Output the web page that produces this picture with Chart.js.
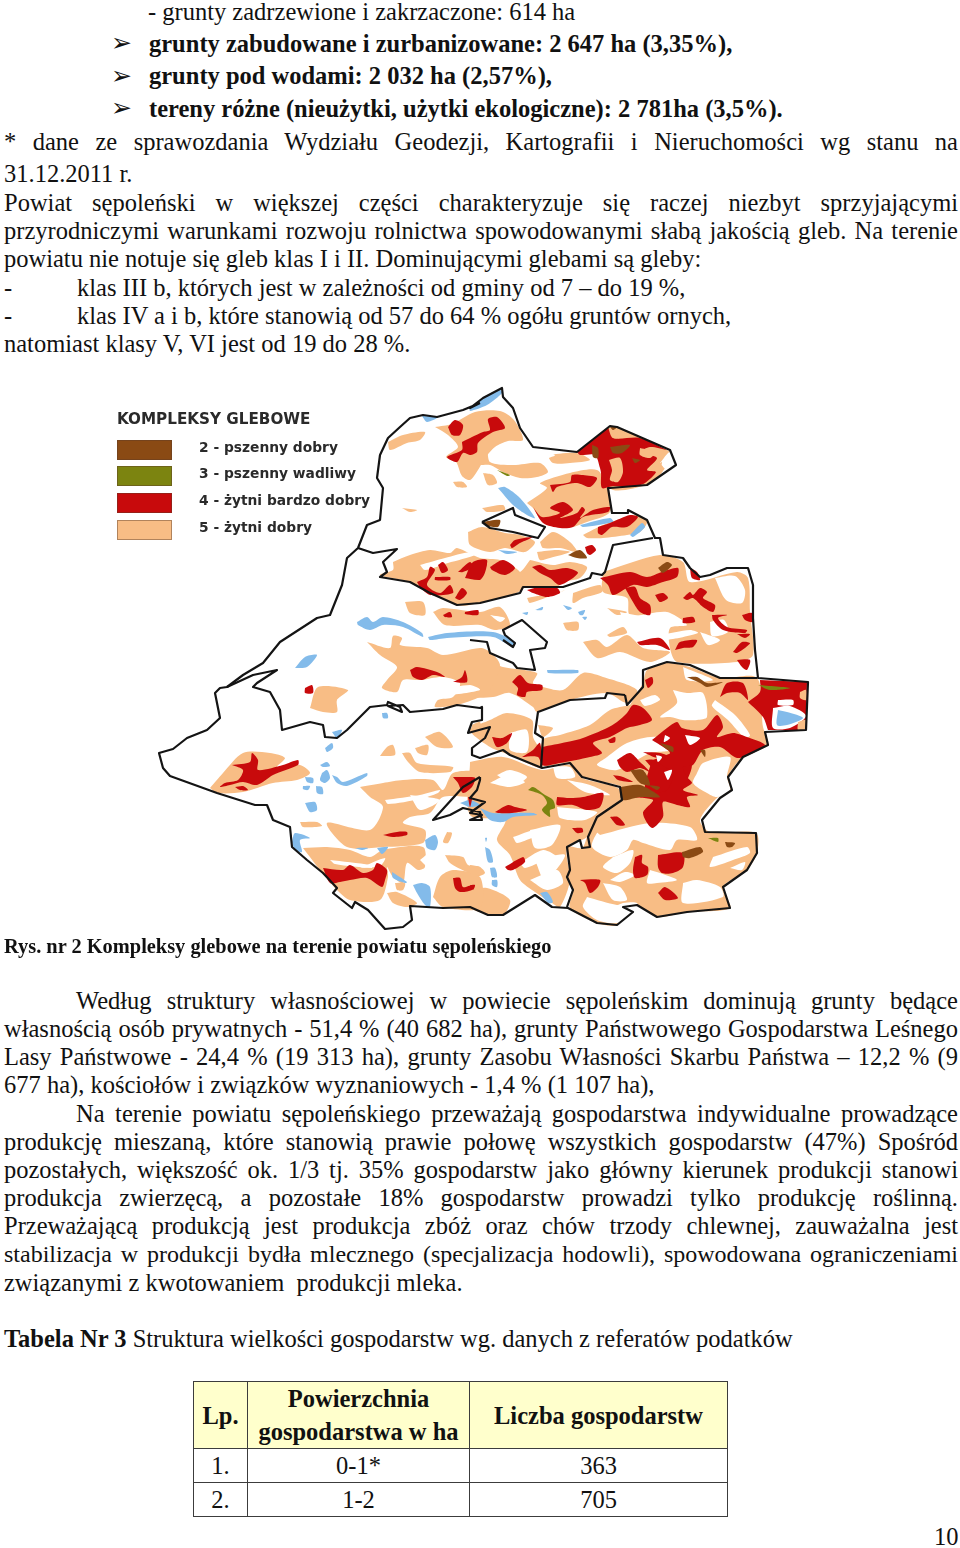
<!DOCTYPE html>
<html lang="pl">
<head>
<meta charset="utf-8">
<title>Kompleksy glebowe</title>
<script src="https://cdn.jsdelivr.net/npm/chart.js@4"></script>
<style>
html, body { margin: 0; background: #fff; }
body { position: relative; width: 960px; height: 1548px; overflow: hidden; font-family: "Liberation Serif", serif; color: #111; }
.ln { position: absolute; left: 4px; white-space: pre; font-size: 24.5px; line-height: 28px; height: 28px; }
.just { width: 954px; white-space: normal; text-align: justify; text-align-last: justify; }
.ind { left: 76px; width: 882px; }
.bb { font-weight: bold; }
.arrow { position: absolute; left: 111px; font: 25px/28px "DejaVu Sans"; }
.ln.cap { font-size: 20.4px; font-weight: bold; }
#mapBox { position: absolute; left: 110px; top: 385px; width: 740px; height: 550px; }
#mapBox canvas { filter: blur(0.4px); }
#legendTitle { position: absolute; left: 117px; top: 410px; font: bold 15.2px/18px "DejaVu Sans", sans-serif; color: #2a2a2a; }
.sw { position: absolute; left: 117px; width: 53px; height: 18px; border: 1px solid rgba(90,60,40,.45); }
.lab { position: absolute; left: 199px; font: bold 13.8px/18px "DejaVu Sans", sans-serif; color: #2a2a2a; }
table { position: absolute; left: 193px; top: 1381px; width: 534px; border-collapse: collapse; font-size: 24.5px; line-height: 33px; table-layout: fixed; }
td { border: 1.5px solid #3c3c3c; text-align: center; padding: 0; height: 32.5px; }
.hd td { background: #ffffcc; font-weight: bold; }
#pageNo { position: absolute; left: 934px; top: 1523px; font-size: 24.5px; line-height: 28px; }
</style>
</head>
<body>
<div class="ln" style="left:148px;top:-2px">- grunty zadrzewione i zakrzaczone: 614 ha</div>
<div class="arrow" style="top:29px">➢</div>
<div class="ln bb" style="left:149px;top:30px">grunty zabudowane i zurbanizowane: 2 647 ha (3,35%),</div>
<div class="arrow" style="top:62px">➢</div>
<div class="ln bb" style="left:149px;top:62px">grunty pod wodami: 2 032 ha (2,57%),</div>
<div class="arrow" style="top:94px">➢</div>
<div class="ln bb" style="left:149px;top:95px">tereny różne (nieużytki, użytki ekologiczne): 2 781ha (3,5%).</div>
<div class="ln just" style="top:128px">* dane ze sprawozdania Wydziału Geodezji, Kartografii i Nieruchomości wg stanu na</div>
<div class="ln" style="top:160px">31.12.2011 r.</div>
<div class="ln just" style="top:189px">Powiat sępoleński w większej części charakteryzuje się raczej niezbyt sprzyjającymi</div>
<div class="ln just" style="top:217px">przyrodniczymi warunkami rozwoju rolnictwa spowodowanymi słabą jakością gleb. Na terenie</div>
<div class="ln" style="top:245px">powiatu nie notuje się gleb klas I i II. Dominującymi glebami są gleby:</div>
<div class="ln" style="top:274px">-</div>
<div class="ln" style="left:77px;top:274px">klas III b, których jest w zależności od gminy od 7 – do 19 %,</div>
<div class="ln" style="top:302px">-</div>
<div class="ln" style="left:77px;top:302px">klas IV a i b, które stanowią od 57 do 64 % ogółu gruntów ornych,</div>
<div class="ln" style="top:330px">natomiast klasy V, VI jest od 19 do 28 %.</div>

<div id="mapBox"><canvas id="soilMap" width="740" height="550"></canvas></div>
<div id="legendTitle">KOMPLEKSY GLEBOWE</div>
<div id="legend"></div>

<div class="ln cap" style="top:932px">Rys. nr 2 Kompleksy glebowe na terenie powiatu sępoleńskiego</div>

<div class="ln just ind" style="top:987px">Według struktury własnościowej w powiecie sępoleńskim dominują grunty będące</div>
<div class="ln just" style="top:1015px">własnością osób prywatnych - 51,4 % (40 682 ha), grunty Państwowego Gospodarstwa Leśnego</div>
<div class="ln just" style="top:1043px">Lasy Państwowe - 24,4 % (19 313 ha), grunty Zasobu Własności Skarbu Państwa – 12,2 % (9</div>
<div class="ln" style="top:1071px">677 ha), kościołów i związków wyznaniowych - 1,4 % (1 107 ha),</div>
<div class="ln just ind" style="top:1100px">Na terenie powiatu sępoleńskiego przeważają gospodarstwa indywidualne prowadzące</div>
<div class="ln just" style="top:1128px">produkcję mieszaną, które stanowią prawie połowę wszystkich gospodarstw (47%) Spośród</div>
<div class="ln just" style="top:1156px">pozostałych, większość ok. 1/3 tj. 35% gospodarstw jako główny kierunek produkcji stanowi</div>
<div class="ln just" style="top:1184px">produkcja zwierzęcą, a pozostałe 18% gospodarstw prowadzi tylko produkcję roślinną.</div>
<div class="ln just" style="top:1212px">Przeważającą produkcją jest produkcja zbóż oraz chów trzody chlewnej, zauważalna jest</div>
<div class="ln just" style="top:1240px;font-size:24px">stabilizacja w produkcji bydła mlecznego (specjalizacja hodowli), spowodowana ograniczeniami</div>
<div class="ln" style="top:1269px">związanymi z kwotowaniem  produkcji mleka.</div>
<div class="ln" style="top:1325px"><b>Tabela Nr 3</b> Struktura wielkości gospodarstw wg. danych z referatów podatków</div>

<table>
<colgroup><col style="width:54px"><col style="width:222px"><col style="width:258px"></colgroup>
<tr class="hd"><td>Lp.</td><td>Powierzchnia<br>gospodarstwa w ha</td><td>Liczba gospodarstw</td></tr>
<tr><td>1.</td><td>0-1*</td><td>363</td></tr>
<tr><td>2.</td><td>1-2</td><td>705</td></tr>
</table>
<div id="pageNo">10</div>

<script>
'use strict';

// legend
const legendLabels = ['2 - pszenny dobry', '3 - pszenny wadliwy', '4 - żytni bardzo dobry', '5 - żytni dobry'];
const legendColors = ['#8a4a14', '#7c8410', '#c80a0c', '#f8bd85'];

// polygons as flat x,y lists (axis units = page pixels)
const soil5 = [
  [388,442,403,435,425,432,420,440,407,443,390,450],
  [435,427,452,424,475,412,500,411,514,420,523,440,508,441,495,447,485,458,478,470,470,480,462,476,456,462,446,457,458,447,448,435],
  [453,482,463,482,467,487,457,487],
  [402,508,417,510,410,512],
  [468,532,482,527,505,533,520,535,535,542,525,552,505,548,490,552,470,545],
  [393,562,410,555,430,550,450,553,457,548,480,558,500,560,520,572,522,590,470,605,457,605,430,593,410,582,380,575,393,570],
  [405,602,423,602,425,615,410,613],
  [433,612,443,608,480,612,500,607,510,625,495,630,480,625,445,625],
  [367,642,390,648,393,636,402,638,400,645,427,648,443,655,480,648,490,652,500,665,490,690,480,697,457,705,435,707,438,700,453,697,460,683,443,677,420,680,403,680,397,692,382,688,387,680,397,667,380,655],
  [470,655,487,660,503,667,537,673,533,683,543,687,563,690,583,673,603,677,637,690,627,703,607,693,570,700,537,712,533,707,510,693,493,697,470,695],
  [583,642,597,640,607,647,627,635,643,648,670,652,650,662,620,652,597,658],
  [563,623,578,622,578,630,567,630],
  [607,608,627,612,617,615],
  [607,635,623,627,627,633,610,637],
  [603,572,660,555,683,562,690,582,737,572,748,578,750,612,753,655,737,662,677,662,670,648,670,628,687,625,667,612,630,615,627,598,603,592],
  [480,465,487,445,490,462,513,465,540,463,548,472,537,477,520,478,503,472,490,465],
  [483,473,493,475,497,483,488,485],
  [547,455,577,453,590,460,570,463,553,463],
  [527,503,547,488,540,483,570,473,597,470,607,485,608,488,610,512,587,522,567,528,543,522,533,508],
  [583,535,603,525,637,515,647,522,640,532,627,535,603,538,587,538],
  [607,428,617,427,667,450,672,455,660,475,647,485,610,488],
  [482,508,503,505,505,510,487,512],
  [530,560,553,565,570,562,587,567,580,578,563,582,557,587,525,587,503,598,490,588,490,580,520,572],
  [537,552,557,550,570,552,550,558,540,560],
  [540,542,553,532,570,542,577,552,560,548,543,548],
  [573,593,600,585,602,592,583,598,573,603],
  [527,598,560,592,565,590,530,603],
  [310,708,318,687,348,690,337,700,337,712,323,712],
  [210,788,223,773,243,753,270,753,285,758,277,767,300,765,310,773,297,780,273,783,243,792,217,793],
  [425,737,440,732,453,747,437,747],
  [380,756,387,747,393,745,395,755],
  [415,748,428,745,427,755,418,753],
  [402,753,410,753,417,763,453,767,450,772,420,772,408,762],
  [360,787,383,783,403,780,433,780,443,790,453,773,480,773,480,795,443,797,430,813,410,817,403,823,425,830,423,843,383,847,347,847,327,823,370,830,383,807,370,797],
  [300,822,317,822,322,826,303,827],
  [303,848,327,847,350,850,370,857,383,850,423,847,425,867,418,870,407,863,403,883,393,877,387,867,388,877,380,900,350,900,337,890,320,870],
  [387,893,397,892,417,903,407,907,393,903],
  [445,855,463,857,468,865,480,867,480,875,467,872,450,863],
  [433,897,440,877,453,870,480,877,480,908,443,907],
  [447,832,452,833,448,843,443,842],
  [472,725,480,722,480,732,472,732],
  [395,883,405,883,403,890,397,890],
  [470,762,503,757,542,770,570,765,582,778,618,788,620,800,597,815,587,837,567,847,570,880,560,907,552,903,535,892,520,880,510,855,497,840,505,820,470,815],
  [470,890,487,888,510,900,503,915,483,913,470,907],
  [630,705,643,683,647,670,667,663,690,667,720,678,757,678,763,727,768,745,743,757,728,777,732,790,718,797,700,820,710,832,756,833,757,853,747,870,723,887,730,908,687,912,657,917,637,905,623,907,617,925,597,923,570,908,573,890,567,877,570,870,567,847,582,848,587,837,597,815,620,800,622,787,582,777,570,763,542,765,543,740,560,735,590,725,610,710],
  [538,725,553,728,543,737],
  [490,720,507,713,532,720,533,737,540,750,542,768,510,755,490,747,470,730],
  [470,865,480,867,485,873,477,877,470,877]
];

// unmapped ground cut out of the orange areas
const gaps = [
  [673,690,687,693,703,693,707,717,697,720,683,720,670,717,660,717,677,703],
  [683,667,713,680,687,680],
  [607,757,627,743,657,737,670,750,650,753,617,770,597,765],
  [697,773,703,763,730,757,727,777,730,790,717,797,707,793,693,783],
  [600,835,650,823,690,827,697,840,677,840,670,850,643,843,633,840,627,850,610,857,592,847,597,833],
  [587,897,617,905,623,903,637,903,637,913,617,923,597,920,583,907],
  [683,883,697,880,720,887,723,897,683,903],
  [613,857,633,850,630,863,617,873,603,867],
  [650,870,660,873,677,880,657,883,647,883],
  [713,857,747,847,750,853,733,860,710,867],
  [603,883,620,887,627,900,613,900],
  [497,775,510,770,527,777,513,785],
  [553,767,570,767,575,777,557,778],
  [557,807,597,812,585,820,560,818],
  [510,733,527,730,527,752,510,750],
  [710,622,724,620,728,632,712,636],
  [715,578,735,576,745,590,742,603,726,600],
  [700,632,720,640,708,645],
  [530,830,560,825,552,845,535,848],
  [535,860,565,855,545,880],
  [410,795,440,800,420,810],
  [350,815,375,805,372,822],
  [420,860,440,845,432,870],
  [360,868,385,858,380,866],
  [500,455,530,450,555,455,540,460,510,462],
  [430,630,470,632,455,640],
  // thin veins
  [513,837,537,830,550,840,533,838,517,843],
  [520,863,543,850,557,857,545,860,525,868],
  [530,880,557,870,563,883,547,890],
  [490,783,503,777,525,782,510,787],
  [567,780,590,785,610,795,585,792],
  [385,800,420,795,440,790,438,793,420,799,388,804],
  [330,860,370,865,372,868,335,864],
  [640,700,655,695,660,700,645,706],
  [610,880,625,872,635,875,620,882],
  [730,868,745,862,742,870],
  [715,700,735,715,750,735,745,738,728,720,712,706],
  [620,612,650,618,680,622,680,625,650,622,622,616],
  [660,635,690,630,698,633,665,640],
  [420,565,445,558,470,552,475,555,448,563,425,570],
  [490,615,505,618,500,622],
  [440,690,470,685,480,690,445,695]
];

const soil4 = [
  [448,427,455,420,463,425,460,435,452,435],
  [462,442,472,437,483,432,490,430,488,419,497,417,505,428,493,432,478,443,477,452,470,455,463,453,457,462,447,457,462,450],
  [417,582,427,577,430,567,435,570,427,585,440,593,450,585,453,593,430,595,420,587],
  [438,565,443,562,448,570,442,573],
  [435,577,450,577,450,580,435,580],
  [458,572,470,562,473,567,463,572],
  [465,578,473,562,487,560,483,575,480,580],
  [455,598,462,588,467,593,460,600],
  [443,615,450,612,452,617,445,617],
  [465,612,478,610,478,615,465,614],
  [490,567,503,560,515,568,505,575,492,570],
  [510,545,515,540,533,537,520,543,512,548],
  [577,452,577,452,608,427,608,427,613,438,640,438,667,450,667,450,650,447,641,452,657,458,647,470,656,472,645,483,633,487,613,486,602,488,601,473,600,468,595,455,580,455],
  [550,485,570,482,572,475,583,475,597,478,590,487,577,483,557,487,553,492],
  [533,507,542,517,560,513,550,508,563,502,573,510,560,518,577,513,582,507,585,510,580,518,593,510,610,507,608,512,583,517,573,527,560,528,543,523],
  [598,527,610,523,630,515,638,517,627,527,612,527,602,535,598,533],
  [585,547,592,545,596,550,590,555,587,553],
  [470,567,482,560,487,563,482,578,470,578],
  [532,567,540,565,550,570,567,568,578,573,560,585,550,578,540,573],
  [527,590,540,587,557,588,560,593,547,597,533,593],
  [600,578,630,572,647,577,662,572,678,568,677,577,663,582,647,587,633,585,613,595,608,585],
  [625,588,635,587,640,598,650,605,650,615,640,612,633,602],
  [655,595,663,593,668,598,660,602],
  [690,568,697,572,700,580,692,578],
  [683,598,690,592,693,595,700,588,707,592,703,598,715,605,713,612,703,607,693,598,687,600],
  [712,615,727,615,718,618,727,627,747,630,745,633,723,630,713,620],
  [742,615,752,613,753,622,745,620],
  [733,652,742,642,750,643,745,648,737,653],
  [737,634,750,634,745,638],
  [683,618,693,617,695,622,683,623],
  [637,642,660,638,670,650,657,645,640,645],
  [675,650,680,642,697,640,693,647,683,648],
  [232,765,250,762,252,753,258,760,258,770,283,765,298,760,298,765,273,775,257,785,243,782,230,785,220,787,225,783,238,780,243,770],
  [235,787,243,786,248,790,240,790],
  [305,688,312,685,313,693,305,693],
  [410,670,417,667,437,672,445,677,433,675,422,680,413,677],
  [453,682,462,677,465,670,467,682],
  [453,777,468,777,475,778,472,787,463,793,458,783],
  [468,797,472,797,470,807],
  [383,835,397,832,407,832,407,835,393,837],
  [323,868,343,870,350,865,363,873,373,870,377,863,387,870,385,880,382,887,367,878,350,880,340,882,330,883],
  [453,878,460,878,463,887,473,885,472,890,460,892,455,888],
  [512,682,520,675,528,683,542,685,542,690,527,692,525,697,517,695,518,688],
  [645,680,652,677,653,683,648,688],
  [492,737,502,738,512,733,507,743,497,747],
  [522,757,533,750,540,743,542,767,538,757],
  [542,747,567,742,583,738,607,728,617,722,627,713,633,705,643,708,652,720,640,725,627,728,610,737,593,743,602,753,590,757,560,763,542,765],
  [608,740,615,737,615,742,610,743],
  [652,740,667,728,677,722,682,728,703,730,717,715,723,727,717,737,733,733,747,737,765,745,753,753,737,758,720,747,703,750,693,765,683,767,687,777,692,783,683,790,698,795,687,797,690,807,677,805,663,802,663,817,652,828,643,813,653,800,633,797,650,793,667,790,673,773,660,763,670,753,660,745],
  [652,760,680,752,692,765,680,790,660,795,645,790],
  [617,760,630,753,640,762,650,772,640,768,627,772,620,767],
  [643,752,660,753,670,757,657,758],
  [645,760,653,760,652,767],
  [660,773,663,772,660,783,652,787,648,783],
  [613,775,623,777,633,782,618,780],
  [557,797,570,798,583,797,603,793,600,807,587,810,573,805,557,805],
  [495,812,508,805,515,807,527,810,512,813,498,813],
  [610,817,618,817,625,825,617,825],
  [572,828,582,828,583,832,577,833],
  [505,867,523,857,525,862,513,870,508,870],
  [658,855,683,853,683,867,673,873,662,873,658,867],
  [635,857,642,855,642,863,648,867,647,875,635,878,633,870],
  [580,880,600,880,598,887,590,893,585,883],
  [658,893,665,887,678,898,665,900],
  [748,702,760,692,760,680,760,680,807,682,807,682,806,730,806,730,768,730,768,730,763,717],
  [720,697,727,683,743,683,748,700,740,693,727,693],
  [737,660,750,660,747,670,742,667],
  [470,885,475,885,473,890]
];

// orange and white patches lying inside the red areas
const soil5Patches = [
  [609,460,620,458,623,472,618,482,610,480,612,470],
  [640,448,655,452,650,458,640,455],
  [613,430,622,437,613,438],
  [653,470,662,462,658,472],
  [800,692,806,690,806,700,800,698],
  [798,722,806,720,805,730,798,730]
];
const redGaps = [
  [778,700,793,700,793,705,778,705],
  [773,708,790,706,806,716,790,728,773,728],
  [656,755,662,757,658,762],
  [640,770,645,772,642,778],
  [660,463,670,452,675,465,667,470],
  [665,735,670,738,664,742],
  [685,735,700,738,690,745],
  [664,772,672,770,668,780]
];

const soil3 = [
  [497,470,510,475,507,476],
  [528,790,533,787,545,795,553,800,555,808,550,810,550,817,542,810,547,803,542,795],
  [758,685,790,688,770,690],
  [708,838,718,838,718,842]
];

const soil2 = [
  [482,522,500,520,498,527,485,525],
  [568,555,580,550,587,558,577,558],
  [658,568,667,562,672,565,663,573],
  [592,445,598,448,598,458,593,457],
  [610,447,630,445,622,453,613,453],
  [632,458,640,460,635,463],
  [610,427,617,427,613,430],
  [687,677,697,677,707,683,723,682,707,687,700,683],
  [660,743,673,747,673,752,665,748],
  [630,770,643,770,650,785,640,783],
  [620,787,640,785,660,797,640,797,622,800],
  [700,750,705,750,705,757],
  [682,852,700,847,703,852,690,858,683,857],
  [725,842,735,843,732,847,727,847],
  [648,785,660,787,657,790]
];

const water = [
  [470,408,483,398,500,390,502,393,487,405,470,411],
  [422,416,438,417,427,422],
  [498,488,505,487,520,498,535,518,527,515,513,505],
  [580,525,610,518,613,522,583,527],
  [630,535,642,523,645,527,633,537],
  [498,550,517,552,507,554],
  [563,605,572,608,568,610],
  [578,612,585,610,583,615,580,615],
  [582,617,587,617,585,620],
  [522,613,528,612,527,615],
  [535,610,543,607,542,610],
  [357,622,367,617,373,622,383,617,403,622,422,633,423,637,403,627,383,625,370,630,358,625],
  [428,637,447,633,493,632,515,642,513,647,493,637,447,638,430,640],
  [295,668,305,657,317,655,307,667],
  [382,713,387,713,388,718,383,718],
  [332,732,342,730,337,738],
  [325,748,332,743,333,748,327,752],
  [320,765,327,762,330,766,323,767],
  [322,773,327,770,330,778,325,783,320,780],
  [332,775,337,777,343,782,367,773,367,776,347,786,337,783],
  [305,777,313,778,313,783,307,782],
  [303,786,310,786,308,790,303,789],
  [316,786,322,787,323,794,317,793],
  [305,803,315,802,317,810,310,812],
  [292,842,295,833,310,838,300,840,302,852,295,850],
  [425,840,435,835,438,842,435,850,427,848],
  [377,848,388,847,382,854],
  [355,848,368,848,362,850],
  [413,885,422,883,430,887,430,907,425,905,417,893],
  [392,872,407,882,405,883,393,878],
  [480,808,493,813,513,813,533,813,537,815,513,817,503,822,490,820],
  [460,803,470,800,480,805,470,807],
  [547,670,578,670,578,673,548,673],
  [485,838,487,838,486,842],
  [485,847,490,850,493,862,488,862],
  [490,868,495,868,497,877,492,877],
  [492,880,497,880,497,887,492,885],
  [540,893,547,892,553,902,548,903],
  [778,710,787,712,803,718,787,725,777,725]
];

// county outline and the commune borders inside it
const outline = [480,403,470,408,483,398,502,388,503,397,513,408,520,428,533,447,577,452,610,426,617,427,670,450,676,465,647,485,610,488,608,488,612,513,628,513,628,510,647,520,655,538,660,538,663,555,683,558,690,568,700,577,710,575,727,568,748,568,753,585,753,618,755,650,758,678,808,682,806,730,765,732,768,745,743,757,728,777,732,790,720,798,702,820,705,832,756,833,757,853,747,870,723,887,730,908,687,912,657,917,637,905,623,907,633,912,617,925,597,923,568,908,552,907,535,895,503,915,488,915,470,907,443,908,410,906,412,920,403,927,385,929,368,910,355,902,352,908,333,893,337,888,323,873,307,860,292,847,290,827,273,820,267,805,255,805,217,793,170,776,163,768,159,753,173,749,187,738,207,730,220,718,215,693,220,688,227,687,243,675,263,663,280,642,317,618,330,615,342,585,347,558,358,548,367,525,380,520,383,488,377,478,380,455,388,438,400,427,410,418,423,415,437,417,463,410,480,403];
const borders = [
  [358,548,373,553,397,549,383,562,387,572,380,577,410,582,430,593,457,605,480,603,520,593,523,587,563,587,590,578,592,573,602,575,605,572,613,545,630,542,653,538],
  [482,522,513,508,515,515,545,527,538,538,513,532,490,528,482,522],
  [227,687,253,675,277,670,257,683,253,687,270,692,280,710,282,730,310,722,323,725,325,737,337,738,347,730,370,707,387,705,388,702,400,707,402,712,388,706,403,705,410,712,443,709,457,705,480,708,482,707,482,720,472,722,468,733,490,727,485,738,472,748,472,755,480,758,503,750,510,755,542,768,570,763,582,777,620,787,622,800,597,817,588,837,590,847,582,848,580,840,567,847,570,870,567,877,573,890,567,907],
  [625,695,607,693,605,698,570,700,538,712,535,733,543,738,541,768],
  [625,695,627,705,643,687,643,670,667,662,690,665,720,678,757,678],
  [470,640,487,642,490,653,513,663,517,668,535,670,530,650,545,648,547,642,522,620,503,630,505,635,515,643,513,647,503,640],
  [480,777,463,787,433,820,450,815,463,808,480,812,482,820,470,820,482,815,470,813,485,802,470,798,477,790,480,780,480,777]
];

function toPoints(flat) {
  const pts = [];
  for (let i = 0; i < flat.length; i += 2) pts.push({ x: flat[i], y: flat[i + 1] });
  return pts;
}

function polygonDataset(flat, color, order) {
  // repeat the first point so the rounded edge closes cleanly
  const pts = toPoints(flat.concat(flat.slice(0, 2)));
  return {
    data: pts, showLine: true, fill: 'shape', tension: 0.28, pointRadius: 0,
    borderWidth: 0, backgroundColor: color, order: order
  };
}

function borderDataset(flat) {
  return {
    data: toPoints(flat), showLine: true, fill: false, tension: 0, pointRadius: 0,
    borderWidth: 2.2, borderColor: '#141414', borderJoinStyle: 'round', order: 0
  };
}

const orange = legendColors[3], red = legendColors[2], olive = legendColors[1], brown = legendColors[0];
const datasets = [
  ...soil5.map(p => polygonDataset(p, orange, 9)),
  ...gaps.map(p => polygonDataset(p, '#ffffff', 8)),
  ...water.map(p => polygonDataset(p, '#83bbea', 7)),
  ...soil4.map(p => polygonDataset(p, red, 6)),
  ...soil5Patches.map(p => polygonDataset(p, orange, 5)),
  ...redGaps.map(p => polygonDataset(p, '#ffffff', 5)),
  ...water.slice(-1).map(p => polygonDataset(p, '#83bbea', 4)),
  ...soil3.map(p => polygonDataset(p, olive, 3)),
  ...soil2.map(p => polygonDataset(p, brown, 2)),
  borderDataset(outline),
  ...borders.map(borderDataset)
];

new Chart(document.getElementById('soilMap'), {
  type: 'scatter',
  data: { datasets },
  options: {
    responsive: false,
    animation: false,
    events: [],
    layout: { padding: 0 },
    plugins: { legend: { display: false }, tooltip: { enabled: false } },
    scales: {
      x: { type: 'linear', display: false, min: 110, max: 850 },
      y: { type: 'linear', display: false, min: 385, max: 935, reverse: true }
    }
  }
});

// legend swatches and labels next to the map
const swatchTops = [440, 466, 493, 520];
const legendBox = document.getElementById('legend');
legendLabels.forEach((label, i) => {
  const sw = document.createElement('div');
  sw.className = 'sw';
  sw.style.top = swatchTops[i] + 'px';
  sw.style.background = legendColors[i];
  legendBox.appendChild(sw);
  const lab = document.createElement('div');
  lab.className = 'lab';
  lab.style.top = (swatchTops[i] - 2) + 'px';
  lab.textContent = label;
  legendBox.appendChild(lab);
});
</script>
</body>
</html>
